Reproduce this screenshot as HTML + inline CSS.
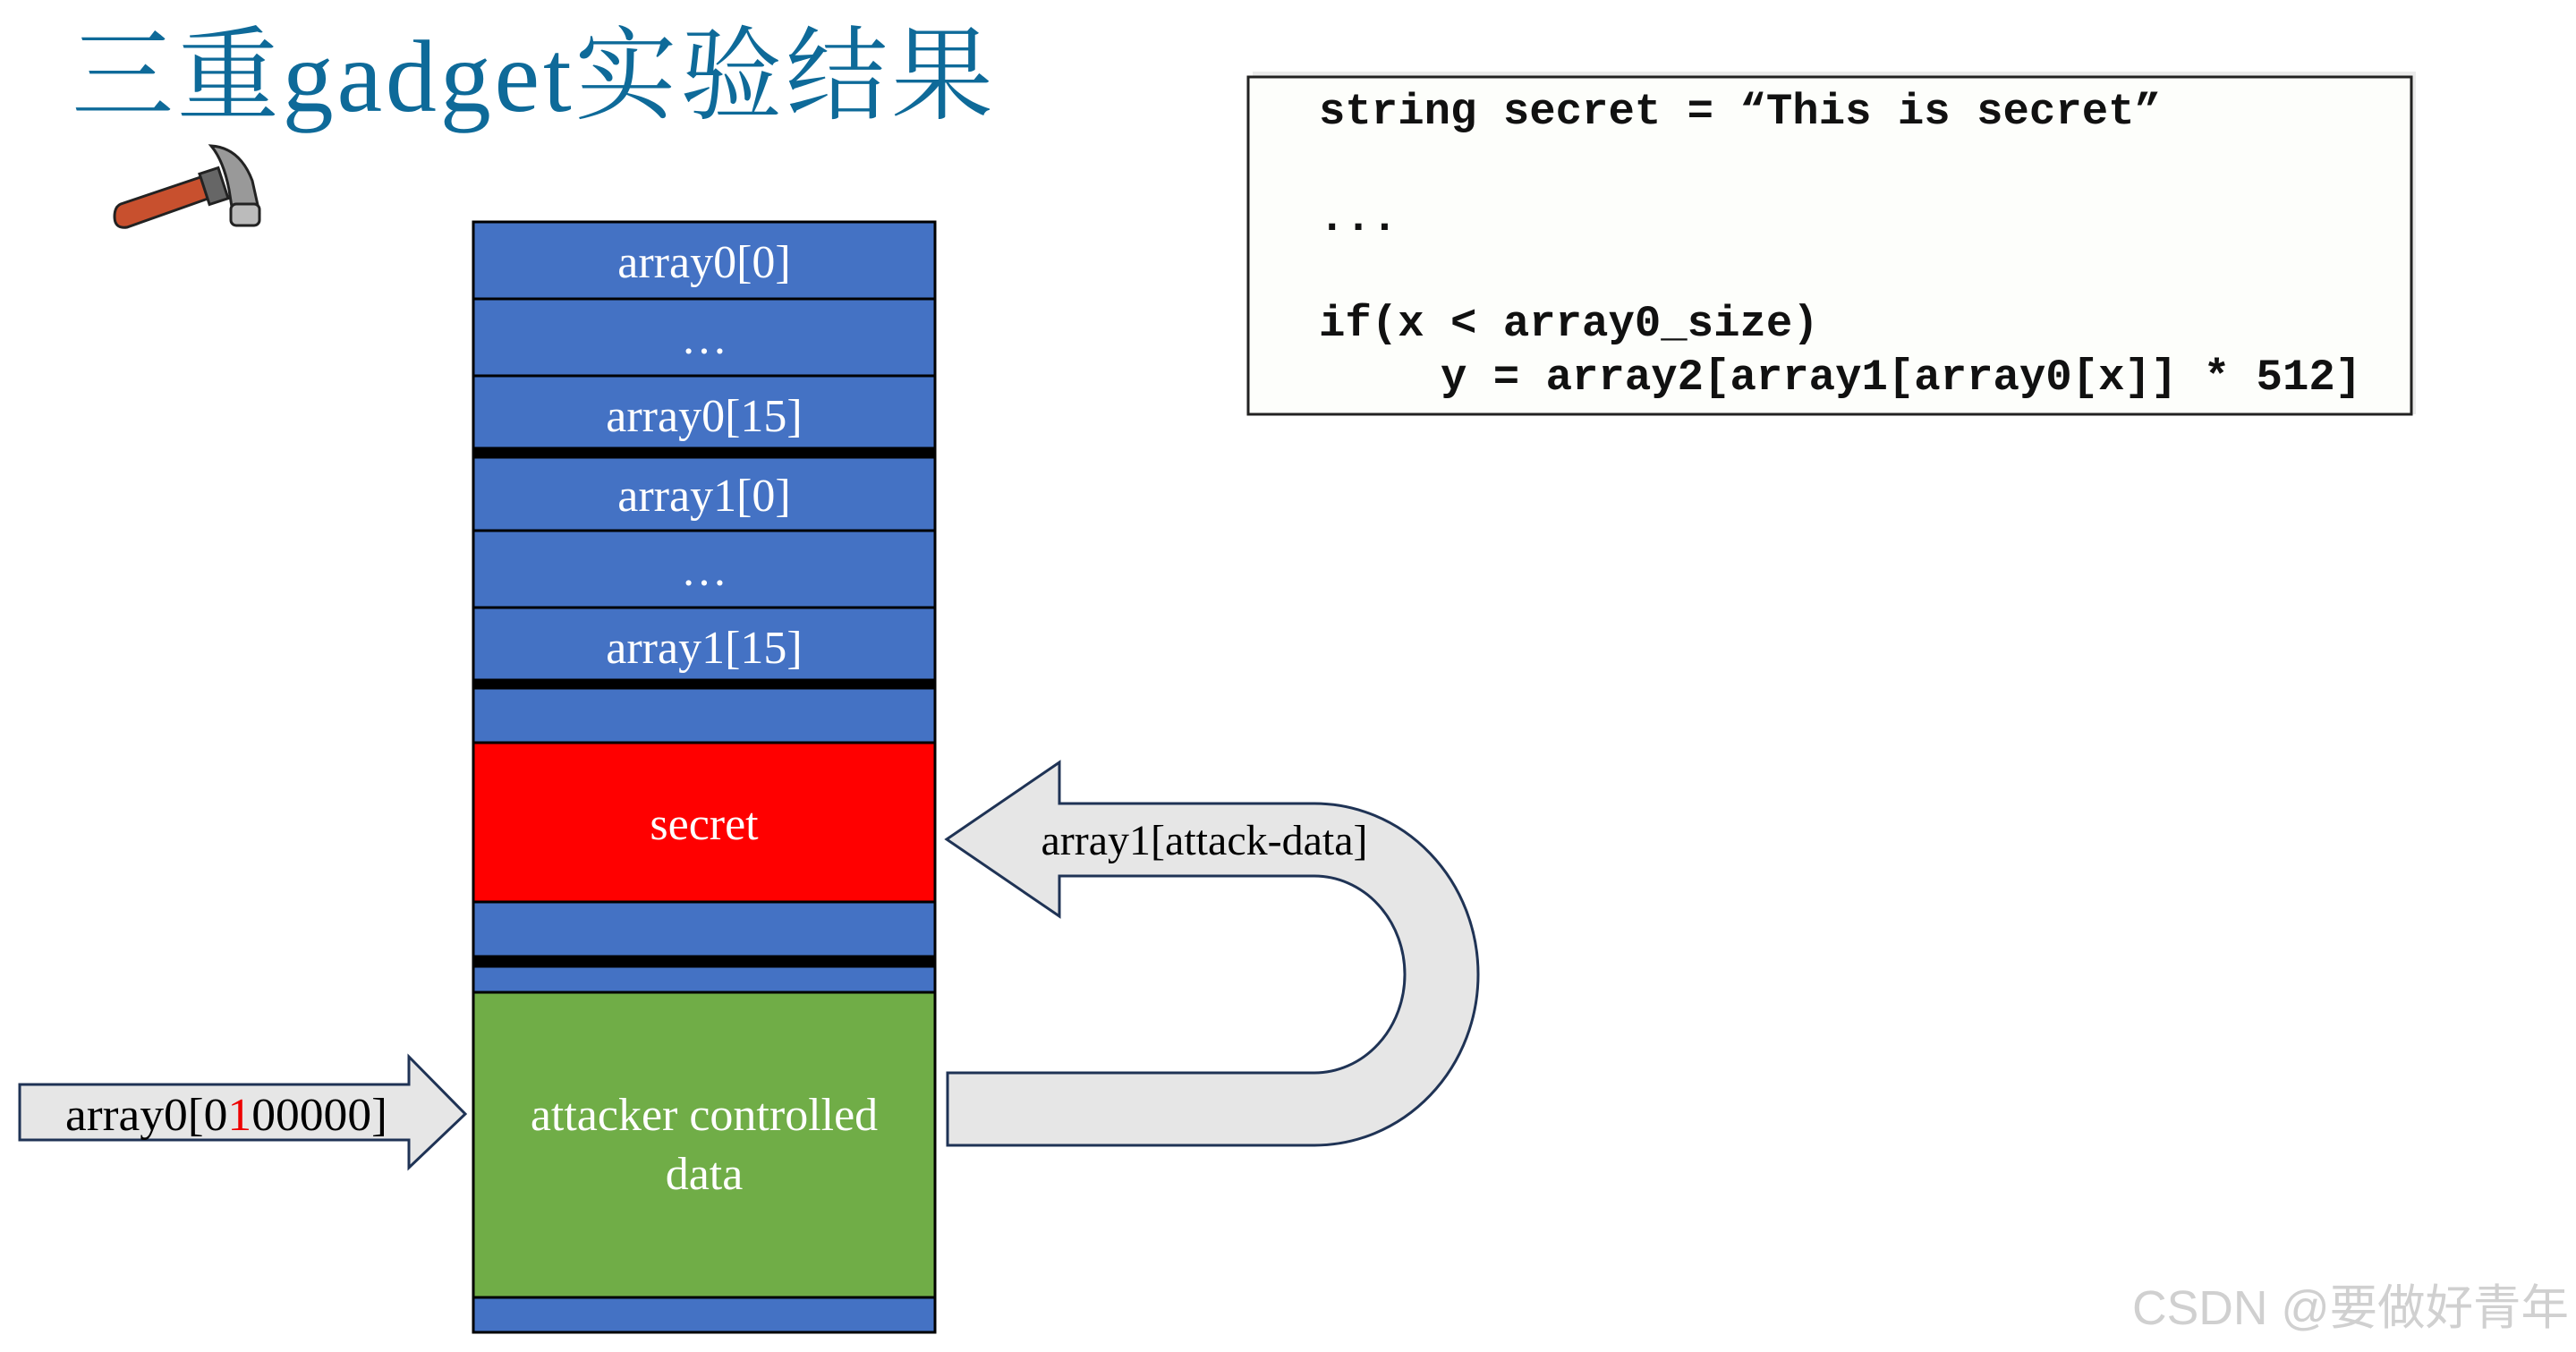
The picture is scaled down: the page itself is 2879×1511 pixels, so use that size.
<!DOCTYPE html>
<html><head><meta charset="utf-8"><style>
html,body{margin:0;padding:0;background:#fff;width:2879px;height:1511px;overflow:hidden}
svg{display:block}
</style></head><body>
<svg width="2879" height="1511" viewBox="0 0 2879 1511" xmlns="http://www.w3.org/2000/svg">
<rect width="2879" height="1511" fill="#fff"/>
<!-- title -->
<text x="80" y="124" font-family="'Liberation Serif','Noto Serif CJK SC',serif" font-size="114" fill="#0e6a99" textLength="1030" lengthAdjust="spacing">三重gadget实验结果</text>
<!-- hammer -->
<g>
<path d="M135 228 L230 196 L238 220 L142 254 Q128 256 128 242 Q128 231 135 228Z" fill="#c8502e" stroke="#222" stroke-width="3"/>
<rect x="228" y="190" width="22" height="36" fill="#666" stroke="#222" stroke-width="3" transform="rotate(-18 239 208)"/>
<path d="M236 163 Q268 165 282 202 L290 238 Q282 250 262 250 L256 212 Q250 180 236 163Z" fill="#999" stroke="#222" stroke-width="3"/>
<rect x="258" y="228" width="32" height="24" rx="6" fill="#bbb" stroke="#222" stroke-width="3"/>
</g>
<!-- code box -->
<rect x="1400" y="80" width="1300" height="383" fill="#d8d8d8" opacity="0.5"/>
<rect x="1395" y="86" width="1300" height="377" fill="#fdfefb" stroke="#222" stroke-width="3"/>
<g font-family="'Liberation Mono',monospace" font-weight="bold" font-size="49" fill="#111">
<text x="1474" y="138">string secret = “This is secret”</text>
<text x="1474" y="257">...</text>
<text x="1474" y="375">if(x &lt; array0_size)</text>
<text x="1610" y="435">y = array2[array1[array0[x]] * 512]</text>
</g>
<!-- stack -->
<g stroke="#000" stroke-width="3">
<rect x="529" y="248" width="516" height="86" fill="#4472c4"/>
<rect x="529" y="334" width="516" height="86" fill="#4472c4"/>
<rect x="529" y="420" width="516" height="81" fill="#4472c4"/>
<rect x="529" y="501" width="516" height="10" fill="#000"/>
<rect x="529" y="511" width="516" height="82" fill="#4472c4"/>
<rect x="529" y="593" width="516" height="86" fill="#4472c4"/>
<rect x="529" y="679" width="516" height="81" fill="#4472c4"/>
<rect x="529" y="760" width="516" height="9" fill="#000"/>
<rect x="529" y="769" width="516" height="61" fill="#4472c4"/>
<rect x="529" y="830" width="516" height="178" fill="#ff0000"/>
<rect x="529" y="1008" width="516" height="61" fill="#4472c4"/>
<rect x="529" y="1069" width="516" height="11" fill="#000"/>
<rect x="529" y="1080" width="516" height="29" fill="#4472c4"/>
<rect x="529" y="1109" width="516" height="341" fill="#70ad47"/>
<rect x="529" y="1450" width="516" height="39" fill="#4472c4"/>
</g>
<g font-family="'Liberation Serif',serif" font-size="52" fill="#fff" text-anchor="middle">
<text x="787" y="310">array0[0]</text>
<text x="787" y="395">…</text>
<text x="787" y="482">array0[15]</text>
<text x="787" y="571">array1[0]</text>
<text x="787" y="654">…</text>
<text x="787" y="741">array1[15]</text>
<text x="787" y="938">secret</text>
<text x="787" y="1263">attacker controlled</text>
<text x="787" y="1329">data</text>
</g>
<!-- left arrow -->
<path d="M22 1212 L457 1212 L457 1181 L520 1245 L457 1305 L457 1274 L22 1274 Z" fill="#e6e6e6" stroke="#1f3355" stroke-width="3"/>
<text x="73" y="1263" font-family="'Liberation Serif',serif" font-size="52" fill="#000" textLength="360" lengthAdjust="spacingAndGlyphs">array0[0<tspan fill="#e00">1</tspan>00000]</text>
<!-- U arrow -->
<path d="M1058 938 L1184 852 L1184 898 L1469 898 A183 191 0 0 1 1469 1280 L1059 1280 L1059 1199 L1469 1199 A101 110 0 0 0 1469 979 L1184 979 L1184 1024 Z" fill="#e6e6e6" stroke="#1f3355" stroke-width="3"/>
<text x="1346" y="955" text-anchor="middle" font-family="'Liberation Serif',serif" font-size="48" fill="#000">array1[attack-data]</text>
<!-- watermark -->
<text x="2383" y="1480" font-family="'Liberation Sans','Noto Sans CJK SC',sans-serif" font-size="54" fill="#d0d0d0" textLength="488" lengthAdjust="spacingAndGlyphs">CSDN @要做好青年</text>
</svg>
</body></html>
